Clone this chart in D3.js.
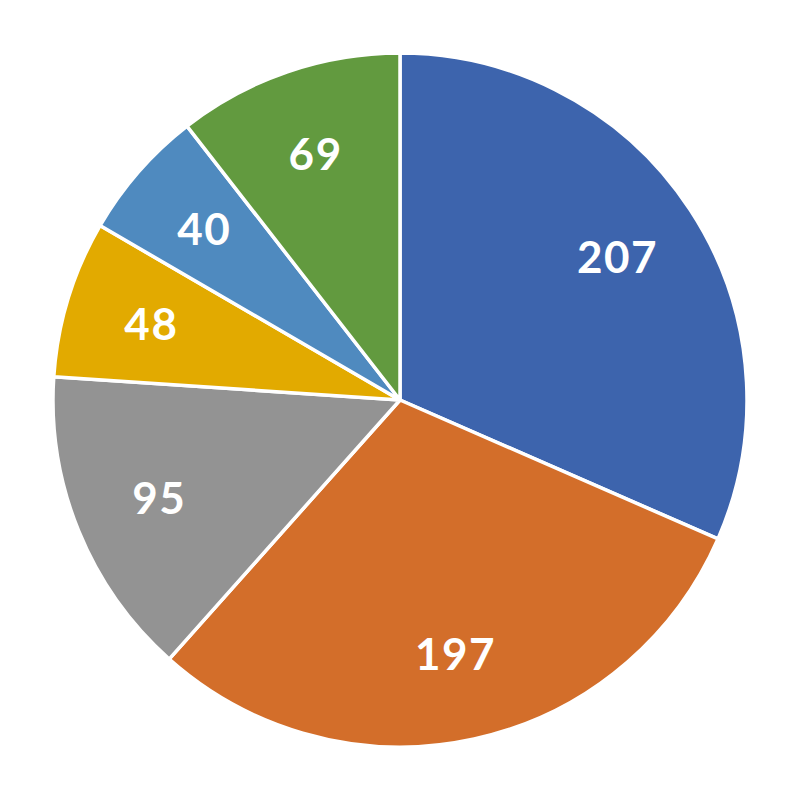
<!DOCTYPE html>
<html><head><meta charset="utf-8">
<script src="https://cdn.jsdelivr.net/npm/d3@7"></script>
<style>html,body{margin:0;padding:0;background:#fff;}</style>
</head><body>
<svg id="chart" width="800" height="800"></svg>
<script>
const categories = ["A","B","C","D","E","F"];
const values = [207, 197, 95, 48, 40, 69];
const colors = ["#3D64AD","#D36E2A","#939393","#E2AA00","#4F8ABF","#629A3F"];

const svg = d3.select("#chart");
const cx = 400, cy = 400, R = 347, labelR = 260;
const data = categories.map((c,i)=>({cat:c, value:values[i], color:colors[i]}));
const pie = d3.pie().value(d=>d.value).sort(null);
const arc = d3.arc().innerRadius(0).outerRadius(R);
const labelArc = d3.arc().innerRadius(labelR).outerRadius(labelR);
const g = svg.append("g").attr("transform",`translate(${cx},${cy})`);
const arcs = pie(data);
g.selectAll("path").data(arcs).join("path")
  .attr("d",arc).attr("fill",d=>d.data.color)
  .attr("stroke","#fff").attr("stroke-width",3.5).attr("stroke-linejoin","round");
g.selectAll("text").data(arcs).join("text")
  .attr("transform",d=>`translate(${labelArc.centroid(d)})`)
  .attr("text-anchor","middle").attr("dy","0.36em")
  .attr("fill","#fff")
  .style("font-family","Lato, 'Open Sans', sans-serif")
  .style("font-weight","700").style("font-size","44px")
  .style("letter-spacing","1.5px")
  .text(d=>d.data.value);
</script>
</body></html>
